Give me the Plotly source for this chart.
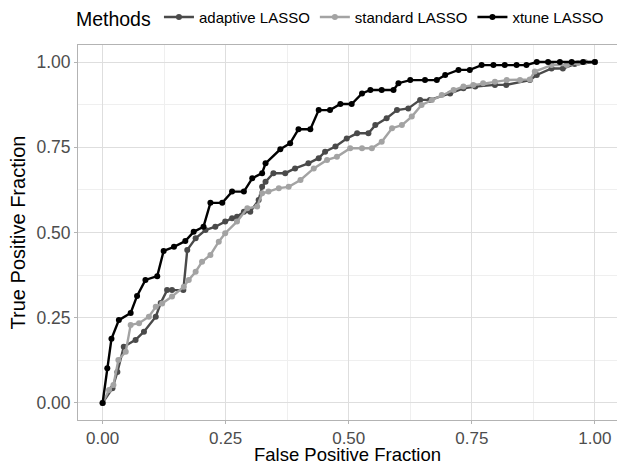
import plotly.graph_objects as go

# ROC operating points (false positive fraction, true positive fraction) per method
adaptive_fpf = [0.0, 0.020, 0.030, 0.043, 0.067, 0.084, 0.108, 0.118, 0.131, 0.141, 0.164, 0.172,
                0.189, 0.209, 0.229, 0.249, 0.263, 0.273, 0.287, 0.300, 0.317, 0.324, 0.331, 0.347,
                0.371, 0.391, 0.418, 0.439, 0.452, 0.473, 0.496, 0.517, 0.540, 0.554, 0.577, 0.598,
                0.621, 0.645, 0.665, 0.706, 0.733, 0.757, 0.797, 0.820, 0.868, 0.882, 0.912, 0.935,
                0.959, 1.0]
adaptive_tpf = [0.0, 0.043, 0.091, 0.165, 0.185, 0.209, 0.253, 0.293, 0.331, 0.331, 0.331, 0.449,
                0.483, 0.507, 0.517, 0.532, 0.542, 0.546, 0.561, 0.561, 0.595, 0.634, 0.649, 0.674,
                0.674, 0.688, 0.703, 0.718, 0.737, 0.752, 0.776, 0.791, 0.791, 0.815, 0.835, 0.859,
                0.864, 0.889, 0.889, 0.908, 0.923, 0.928, 0.933, 0.933, 0.947, 0.962, 0.981, 0.981,
                0.994, 1.0]

standard_fpf = [0.0, 0.013, 0.022, 0.032, 0.047, 0.057, 0.074, 0.094, 0.108, 0.121, 0.141, 0.165,
                0.175, 0.189, 0.202, 0.219, 0.236, 0.249, 0.273, 0.294, 0.314, 0.324, 0.337, 0.358,
                0.378, 0.402, 0.429, 0.456, 0.476, 0.503, 0.527, 0.547, 0.567, 0.588, 0.608, 0.628,
                0.648, 0.669, 0.689, 0.713, 0.733, 0.753, 0.773, 0.797, 0.821, 0.848, 0.868, 0.878,
                0.912, 0.943, 0.966, 0.980, 1.0]
standard_tpf = [0.0, 0.038, 0.053, 0.126, 0.150, 0.229, 0.234, 0.253, 0.282, 0.292, 0.312, 0.341,
                0.361, 0.385, 0.414, 0.434, 0.473, 0.498, 0.532, 0.571, 0.576, 0.615, 0.620, 0.630,
                0.634, 0.654, 0.688, 0.713, 0.722, 0.747, 0.747, 0.747, 0.766, 0.806, 0.815, 0.840,
                0.874, 0.889, 0.903, 0.918, 0.928, 0.933, 0.938, 0.942, 0.947, 0.947, 0.949, 0.972,
                0.991, 0.991, 0.997, 1.0, 1.0]

xtune_fpf = [0.0, 0.0095, 0.018, 0.033, 0.057, 0.070, 0.087, 0.111, 0.124, 0.145, 0.168, 0.185,
             0.205, 0.219, 0.243, 0.263, 0.287, 0.304, 0.324, 0.331, 0.361, 0.381, 0.398, 0.422,
             0.439, 0.462, 0.483, 0.506, 0.527, 0.544, 0.567, 0.591, 0.601, 0.625, 0.655, 0.679,
             0.696, 0.723, 0.746, 0.770, 0.794, 0.817, 0.841, 0.861, 0.882, 0.905, 0.929, 0.953,
             0.976, 1.0]
xtune_tpf = [0.0, 0.102, 0.188, 0.243, 0.264, 0.314, 0.361, 0.372, 0.446, 0.458, 0.475, 0.502,
             0.517, 0.587, 0.587, 0.620, 0.620, 0.659, 0.674, 0.703, 0.744, 0.762, 0.803, 0.803,
             0.859, 0.859, 0.877, 0.877, 0.908, 0.918, 0.918, 0.918, 0.938, 0.947, 0.947, 0.947,
             0.962, 0.977, 0.977, 0.991, 0.991, 0.991, 0.991, 0.991, 1.0, 1.0, 1.0, 1.0,
             1.0, 1.0]

methods = ["adaptive LASSO", "standard LASSO", "xtune LASSO"]
series = [(adaptive_fpf, adaptive_tpf), (standard_fpf, standard_tpf), (xtune_fpf, xtune_tpf)]
colors = ["#4a4a4a", "#a3a3a3", "#000000"]

tick_vals = [0.0, 0.25, 0.5, 0.75, 1.0]
tick_text = ["0.00", "0.25", "0.50", "0.75", "1.00"]

FONT = "Liberation Sans, Arial, Helvetica, sans-serif"

fig = go.Figure()
for name, (fx, ty), col in zip(methods, series, colors):
    fig.add_trace(go.Scatter(
        x=fx, y=ty, mode="lines+markers", name=name,
        line=dict(color=col, width=2.4),
        marker=dict(color=col, size=6),
    ))

axis_common = dict(
    tickvals=tick_vals, ticktext=tick_text,
    showgrid=True, gridcolor="#dedede", gridwidth=1,
    minor=dict(dtick=0.125, tick0=0, showgrid=True, gridcolor="#efefef", gridwidth=0.6),
    showline=True, linecolor="#b3b3b3", linewidth=1, mirror=True,
    ticks="outside", ticklen=3, tickcolor="#b3b3b3",
    zeroline=False,
)

fig.update_xaxes(**axis_common, range=[-0.05, 1.045],
                 tickfont=dict(family=FONT, size=17, color="#4d4d4d"),
                 title=dict(text="False Positive Fraction", standoff=6,
                            font=dict(family=FONT, size=18.5, color="#000000")))
fig.update_yaxes(**axis_common, range=[-0.05, 1.05],
                 tickfont=dict(family=FONT, size=17.5, color="#4d4d4d"),
                 title=dict(text="True Positive Fraction", standoff=5,
                            font=dict(family=FONT, size=20, color="#000000")))

fig.update_layout(
    width=617, height=465,
    margin=dict(l=78, r=0, t=45, b=45, autoexpand=False),
    plot_bgcolor="white", paper_bgcolor="white",
    font=dict(family=FONT),
    showlegend=True,
    legend=dict(
        orientation="h", x=0.985, xanchor="right", y=1.118, yanchor="top",
        title=dict(text="Methods", font=dict(family=FONT, size=19.5, color="#000000")),
        font=dict(family=FONT, size=15, color="#000000"),
        itemwidth=30, tracegroupgap=0,
        bgcolor="rgba(0,0,0,0)",
    ),
)

fig.write_html("out.html")
